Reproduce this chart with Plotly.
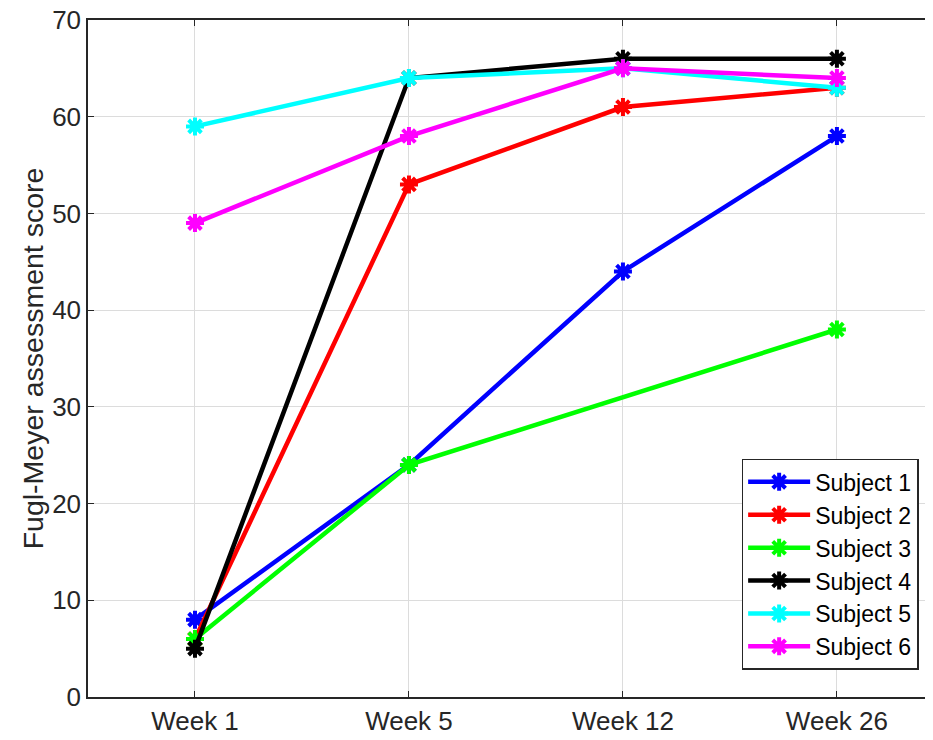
import plotly.graph_objects as go

weeks = ["Week 1", "Week 5", "Week 12", "Week 26"]
x_pos = [1, 2, 3, 4]
subjects = ["Subject 1", "Subject 2", "Subject 3", "Subject 4", "Subject 5", "Subject 6"]
s1 = [8, 24, 44, 58]
s2 = [6, 53, 61, 63]
s3 = [6, 24, None, 38]
s4 = [5, 64, 66, 66]
s5 = [59, 64, 65, 63]
s6 = [49, 58, 65, 64]
series = [s1, s2, s3, s4, s5, s6]
colors = ["#0000ff", "#ff0000", "#00ff00", "#000000", "#00ffff", "#ff00ff"]

fig = go.Figure()
for name, vals, c in zip(subjects, series, colors):
    fig.add_trace(go.Scatter(
        x=x_pos, y=vals, name=name, mode="lines+markers", connectgaps=True,
        line=dict(color=c, width=4.5),
        marker=dict(symbol="asterisk-open", size=15, color=c, line=dict(color=c, width=4)),
    ))

axis_col = "#262626"
fig.update_layout(
    width=925, height=732,
    margin=dict(l=80, r=0, t=12, b=43, autoexpand=False),
    paper_bgcolor="white", plot_bgcolor="white",
    font=dict(family="Liberation Sans, Arial, sans-serif", size=26, color=axis_col),
    showlegend=True,
    legend=dict(x=0.983, y=0.04, xanchor="right", yanchor="bottom",
                bordercolor=axis_col, borderwidth=1.5, bgcolor="white",
                font=dict(size=23, color="black"), itemwidth=62, tracegroupgap=0),
)
fig.update_xaxes(
    range=[0.5, 4.449], tickvals=x_pos, ticktext=weeks, automargin=False,
    showline=True, linecolor=axis_col, linewidth=1.5, mirror="ticks",
    ticks="inside", ticklen=6, tickcolor=axis_col, ticklabeloverflow="allow",
    showgrid=True, gridcolor="#dcdcdc", gridwidth=1, zeroline=False,
)
fig.update_yaxes(
    range=[0, 70], dtick=10, automargin=False,
    showline=True, linecolor=axis_col, linewidth=1.5,
    ticks="inside", ticklen=6, tickcolor=axis_col, ticklabeloverflow="allow",
    showgrid=True, gridcolor="#dcdcdc", gridwidth=1, zeroline=False,
    title=dict(text="Fugl-Meyer assessment score", font=dict(size=28.5), standoff=0),
)
fig.write_html("out.html")
